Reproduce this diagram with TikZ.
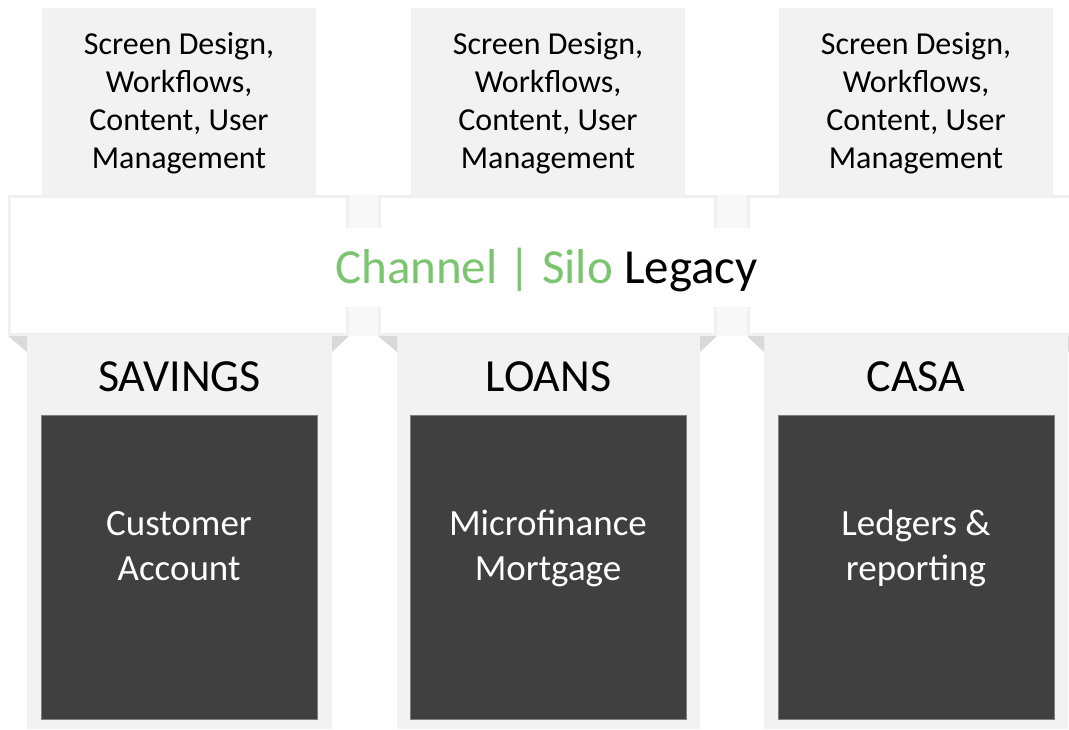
\documentclass[tikz,border=0pt]{standalone}
\usepackage{fontspec}
\setmainfont{Carlito}
\definecolor{lightgrey}{HTML}{F2F2F2}
\definecolor{gapgrey}{HTML}{F8F8F8}
\definecolor{bordergrey}{HTML}{F0F0F0}
\definecolor{foldgrey}{HTML}{D9D9D9}
\definecolor{darkfill}{HTML}{404040}
\definecolor{darkedge}{HTML}{7F7F7F}
\definecolor{channelgreen}{HTML}{7CC570}
\tikzset{
  topbox/.style={fill=lightgrey},
  banner/.style={fill=white, draw=bordergrey, line width=3pt},
  column/.style={fill=lightgrey},
  fold/.style={fill=foldgrey},
  darkbox/.style={fill=darkfill, draw=darkedge, line width=0.6pt},
  toptext/.style={anchor=base, align=center, inner sep=0pt, font=\fontsize{32}{37.7}\selectfont},
  titletext/.style={anchor=base, inner sep=0pt, font=\fontsize{46}{50}\selectfont},
  darktext/.style={anchor=base, align=center, inner sep=0pt, text=white, font=\fontsize{37}{45}\selectfont},
}
\begin{document}
\begin{tikzpicture}[x=1pt, y=-1pt]
\useasboundingbox (0,0) rectangle (1069,729);
\clip (0,0) rectangle (1069,729);
% top boxes
\path[topbox] (42,8) rectangle (316,196);
\path[topbox] (411,8) rectangle (685,196);
\path[topbox] (779,8) rectangle (1053,196);
% faint band behind banners
\path[fill=gapgrey] (8,195) rectangle (1069,336);
% banners
\path[banner] (9.5,196.5) rectangle (347.5,334.5);
\path[banner] (379.5,196.5) rectangle (715.5,334.5);
\path[banner] (748.5,196.5) rectangle (1086.5,334.5);
% columns
\path[column] (27,336) rectangle (332,729);
\path[column] (397,336) rectangle (700,729);
\path[column] (764,336) rectangle (1068,729);
% folds
\path[fold] (8,336) -- (27,336) -- (27,352) -- cycle;
\path[fold] (349,336) -- (332,336) -- (332,352) -- cycle;
\path[fold] (378,336) -- (397,336) -- (397,352) -- cycle;
\path[fold] (717,336) -- (700,336) -- (700,352) -- cycle;
\path[fold] (747,336) -- (764,336) -- (764,352) -- cycle;
\path[fold] (1088,336) -- (1068,336) -- (1068,352) -- cycle;
% dark boxes
\path[darkbox] (41,415) rectangle (317,719);
\path[darkbox] (410,415) rectangle (686,719);
\path[darkbox] (778,415) rectangle (1054,719);
% white strip behind the banner title
\path[fill=white] (12,228) rectangle (1069,307);
% texts (anchor=base is the baseline of the last line)
\node[toptext] (t1) at (179,168) {Screen Design,\\Workflows,\\Content, User\\Management};
\node[toptext] (t2) at (548,168) {Screen Design,\\Workflows,\\Content, User\\Management};
\node[toptext] (t3) at (916,168) {Screen Design,\\Workflows,\\Content, User\\Management};
\node[anchor=base, inner sep=0pt, font=\fontsize{49}{55}\selectfont] (legacy) at (546.5,283)
  {\textcolor{channelgreen}{Channel | Silo} Legacy};
\node[titletext] (savings) at (179.5,391) {SAVINGS};
\node[titletext] (loans) at (548.5,391) {LOANS};
\node[titletext] (casa) at (916,391) {CASA};
\node[darktext] (d1) at (179,580) {Customer\\Account};
\node[darktext] (d2) at (548,580) {Microfinance\\Mortgage};
\node[darktext] (d3) at (916,580) {Ledgers \&\\reporting};
\end{tikzpicture}
\end{document}
